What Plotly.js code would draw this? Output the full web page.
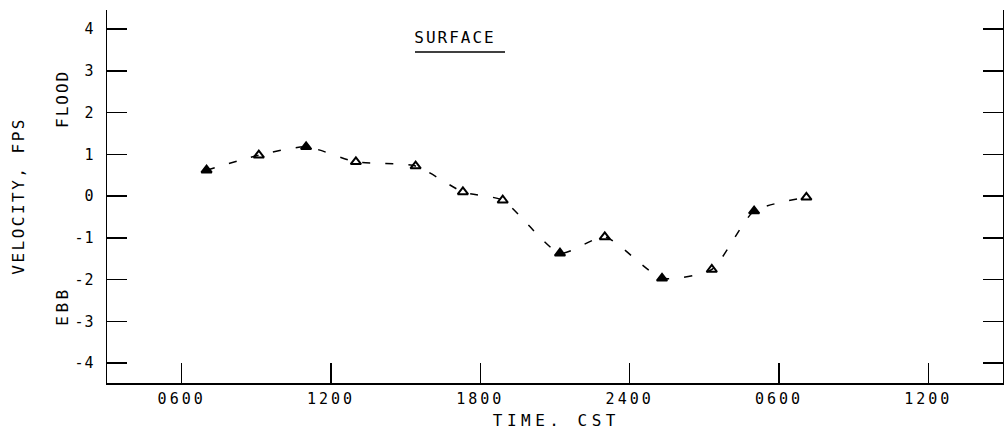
<!DOCTYPE html>
<html>
<head>
<meta charset="utf-8">
<script src="https://cdn.plot.ly/plotly-3.0.1.min.js"></script>
<style>
  html, body { margin: 0; padding: 0; background: #fff; }
  #chart { width: 1004px; height: 433px; }
  .xtick text { letter-spacing: 3px; }
  .ytick text { letter-spacing: 1px; }
  .gtitle { letter-spacing: 2px; }
  g.annotation[data-index="0"] text { letter-spacing: 2.5px; }
  g.annotation[data-index="1"] text { letter-spacing: 2px; }
  g.annotation[data-index="2"] text { letter-spacing: 3.5px; }
  g.annotation[data-index="3"] text { letter-spacing: 4.5px; }
</style>
</head>
<body>
<div id="chart"></div>
<script>
// Time in hours from midnight of day 1 (e.g. 30 = 0600 next day)
var timeHours = [7.0, 9.1, 11.0, 13.0, 15.4, 17.3, 18.9, 21.2, 23.0, 25.3, 27.3, 29.0, 31.1];
// Surface velocity, fps (flood positive, ebb negative)
var velocity  = [0.62, 0.98, 1.18, 0.82, 0.72, 0.10, -0.10, -1.37, -0.98, -1.97, -1.76, -0.36, -0.03];

var xTickVals  = [6, 12, 18, 24, 30, 36];
var xTickText  = ["0600", "1200", "1800", "2400", "0600", "1200"];
var yTickVals  = [-4, -3, -2, -1, 0, 1, 2, 3, 4];
var yTickText  = ["-4", "-3", "-2", "-1", "0", "1", "2", "3", "4"];

var FONT = "DejaVu Sans Mono, monospace";

var markerSymbols = ["triangle-up", "triangle-up-open", "triangle-up", "triangle-up-open",
  "triangle-up-open", "triangle-up-open", "triangle-up-open", "triangle-up", "triangle-up-open",
  "triangle-up", "triangle-up-open", "triangle-up", "triangle-up-open"];

var trace = {
  x: timeHours,
  y: velocity,
  type: "scatter",
  mode: "lines+markers",
  line: { color: "#000", width: 1.5, dash: "8px,15px", shape: "spline", smoothing: 0.6 },
  marker: { symbol: markerSymbols, size: 9, color: "#000", line: { color: "#000", width: 2 } },
  hoverinfo: "skip"
};

var layout = {
  width: 1004,
  height: 433,
  margin: { l: 107, r: 1, t: 10, b: 50 },
  paper_bgcolor: "#fff",
  plot_bgcolor: "#fff",
  showlegend: false,
  font: { family: FONT, color: "#000", size: 15 },
  title: {
    text: "SURFACE",
    font: { family: FONT, size: 16, color: "#000" },
    xref: "container", yref: "container",
    x: 455 / 1004, xanchor: "center",
    y: 1 - 37 / 433, yanchor: "middle"
  },
  xaxis: {
    range: [3, 39],
    tickmode: "array",
    tickvals: xTickVals,
    ticktext: xTickText,
    ticks: "inside",
    ticklen: 20,
    tickwidth: 1.5,
    tickcolor: "#000",
    showline: true,
    linecolor: "#000",
    linewidth: 1.5,
    mirror: false,
    showgrid: false,
    zeroline: false,
    ticklabelstandoff: 1,
    tickfont: { family: FONT, size: 15, color: "#000" }
  },
  yaxis: {
    range: [-4.48, 4.46],
    tickmode: "array",
    tickvals: yTickVals,
    ticktext: yTickText,
    ticks: "inside",
    ticklen: 20,
    tickwidth: 1.5,
    tickcolor: "#000",
    showline: true,
    linecolor: "#000",
    linewidth: 1.5,
    mirror: "ticks",
    showgrid: false,
    zeroline: false,
    ticklabelstandoff: 8,
    tickfont: { family: FONT, size: 15, color: "#000" }
  },
  annotations: [
    { text: "VELOCITY, FPS", xref: "paper", yref: "paper", x: (18 - 107) / 896, y: 0.5,
      textangle: -90, showarrow: false, xanchor: "center", yanchor: "middle",
      font: { family: FONT, size: 16, color: "#000" } },
    { text: "FLOOD", xref: "paper", yref: "paper", x: (62 - 107) / 896, y: (383 - 99) / 373,
      textangle: -90, showarrow: false, xanchor: "center", yanchor: "middle",
      font: { family: FONT, size: 16, color: "#000" } },
    { text: "EBB", xref: "paper", yref: "paper", x: (62 - 107) / 896, y: (383 - 306.5) / 373,
      textangle: -90, showarrow: false, xanchor: "center", yanchor: "middle",
      font: { family: FONT, size: 16, color: "#000" } },
    { text: "TIME. CST", xref: "paper", yref: "paper", x: (556 - 107) / 896, y: (383 - 420) / 373,
      showarrow: false, xanchor: "center", yanchor: "middle",
      font: { family: FONT, size: 16, color: "#000" } }
  ],
  shapes: [
    { type: "line", xref: "paper", yref: "paper",
      x0: (415 - 107) / 896, x1: (505 - 107) / 896,
      y0: (383 - 52) / 373, y1: (383 - 52) / 373,
      line: { color: "#000", width: 1.5 } }
  ]
};

Plotly.newPlot("chart", [trace], layout, { displayModeBar: false, staticPlot: true });
</script>
</body>
</html>
